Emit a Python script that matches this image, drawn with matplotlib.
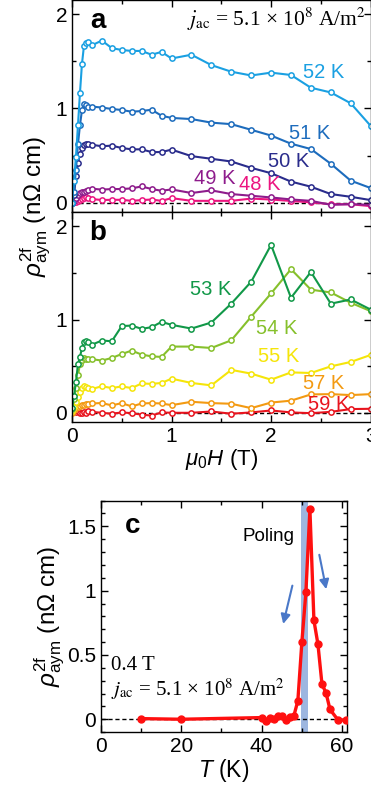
import numpy as np
import matplotlib
matplotlib.use('Agg')
import matplotlib.pyplot as plt
from matplotlib.ticker import MultipleLocator

plt.rcParams['font.family'] = ['Liberation Sans', 'DejaVu Sans']
plt.rcParams['mathtext.fontset'] = 'custom'
plt.rcParams['mathtext.rm'] = 'Liberation Sans'
plt.rcParams['mathtext.it'] = 'Liberation Sans:italic'
plt.rcParams['mathtext.bf'] = 'Liberation Sans:bold'

# field sweep (T)
field = [0, 0.02, 0.04, 0.06, 0.08, 0.10, 0.12, 0.14, 0.16, 0.2, 0.3, 0.4, 0.5, 0.6,
         0.7, 0.8, 0.9, 1.0, 1.2, 1.4, 1.6, 1.8, 2.0, 2.2, 2.4, 2.6, 2.8, 3.0]

# panel a
rho_52 = [0, 0.23, 0.49, 0.82, 1.16, 1.47, 1.66, 1.69, 1.70, 1.67, 1.72, 1.64, 1.62, 1.61,
          1.61, 1.57, 1.60, 1.53, 1.57, 1.46, 1.39, 1.35, 1.38, 1.355, 1.22, 1.17, 1.055, 0.816]
rho_51 = [0, 0.12, 0.35, 0.62, 0.82, 0.98, 1.05, 1.04, 1.02, 1.02, 1.01, 0.995, 0.984, 0.966,
          0.973, 0.987, 0.923, 0.90, 0.888, 0.85, 0.834, 0.774, 0.713, 0.627, 0.57, 0.414, 0.235, 0.157]
rho_50 = [0, 0.08, 0.28, 0.42, 0.52, 0.58, 0.61, 0.62, 0.62, 0.615, 0.60, 0.606, 0.581, 0.567,
          0.567, 0.538, 0.538, 0.564, 0.495, 0.467, 0.438, 0.371, 0.314, 0.225, 0.171, 0.093, 0.064, 0.029]
rho_49 = [0, 0.02, 0.05, 0.08, 0.10, 0.11, 0.12, 0.13, 0.14, 0.15, 0.14, 0.146, 0.146, 0.153,
          0.174, 0.146, 0.128, 0.142, 0.104, 0.132, 0.093, 0.075, 0.057, 0.036, 0.021, -0.021, -0.014, -0.021]
rho_48 = [0, 0.005, 0.01, 0.02, 0.035, 0.045, 0.055, 0.06, 0.055, 0.04, 0.03, 0.032, 0.032, 0.021,
          0.029, 0.035, 0.021, 0.05, 0.021, 0.021, 0.021, 0.045, 0.035, 0.02, 0.005, -0.015, -0.015, -0.035]

# panel b
rho_53 = [0.05, 0.18, 0.33, 0.52, 0.60, 0.69, 0.76, 0.77, 0.76, 0.73, 0.775, 0.767, 0.93, 0.935,
          0.90, 0.918, 0.975, 0.943, 0.903, 0.968, 1.17, 1.405, 1.80, 1.233, 1.51, 1.17, 1.215, 1.107]
rho_54 = [0.04, 0.15, 0.27, 0.40, 0.52, 0.57, 0.59, 0.58, 0.58, 0.575, 0.56, 0.588, 0.63, 0.667,
          0.624, 0.605, 0.599, 0.71, 0.71, 0.695, 0.777, 1.03, 1.28, 1.54, 1.32, 1.29, 1.18, 1.09]
rho_55 = [0.02, 0.06, 0.12, 0.17, 0.22, 0.27, 0.29, 0.28, 0.27, 0.255, 0.285, 0.265, 0.283, 0.265,
          0.315, 0.31, 0.32, 0.366, 0.32, 0.294, 0.46, 0.42, 0.355, 0.433, 0.427, 0.498, 0.545, 0.62]
rho_57 = [0.0, 0.03, 0.05, 0.06, 0.07, 0.08, 0.085, 0.09, 0.095, 0.10, 0.105, 0.079, 0.104, 0.068,
          0.10, 0.104, 0.10, 0.082, 0.118, 0.104, 0.097, 0.05, 0.11, 0.13, 0.197, 0.20, 0.19, 0.20]
rho_59 = [0.02, 0.03, 0.01, 0.02, 0.0, 0.0, 0.01, 0.0, 0.02, 0.01, 0.0, -0.01, 0.004, -0.004,
          -0.02, -0.03, 0.004, 0.0, 0.0, 0.014, -0.01, 0.004, 0.025, 0.004, -0.004, 0.01, 0.04, 0.043]

# panel c
temp = [10, 20, 40, 41, 42, 43, 44, 45, 46, 47, 48, 49, 50, 51, 52, 53, 54, 55, 56, 57, 59, 61]
rho_T = [0.005, 0.0, 0.013, -0.013, 0.013, 0.005, 0.023, 0.023, -0.003, 0.018, 0.026, 0.143,
         0.60, 0.987, 1.633, 0.768, 0.583, 0.273, 0.206, 0.076, -0.006, -0.006]

curves_a = [(rho_52, '#1aa0e2', '52 K', 2.53, 1.385),
            (rho_51, '#1d6cbd', '51 K', 2.39, 0.74),
            (rho_50, '#2a2c8c', '50 K', 2.18, 0.44),
            (rho_49, '#8e1c8c', '49 K', 1.43, 0.26),
            (rho_48, '#ec1580', '48 K', 1.89, 0.19)]
curves_b = [(rho_53, '#119848', '53 K', 1.39, 1.32),
            (rho_54, '#86c02c', '54 K', 2.06, 0.90),
            (rho_55, '#f5e50a', '55 K', 2.08, 0.60),
            (rho_57, '#f39a12', '57 K', 2.53, 0.31),
            (rho_59, '#e8141e', '59 K', 2.58, 0.09)]

jac = r'$j_{\rm ac}$ = 5.1 × 10$^{8}$ A/m$^{2}$'
ylab = r'$\rho^{\rm 2f}_{\rm aym}$ (n$\Omega$ cm)'

fig = plt.figure(figsize=(3.71, 8.01), dpi=100)
axa = fig.add_axes([0.194, 0.735, 0.805, 0.265])
axb = fig.add_axes([0.194, 0.473, 0.805, 0.262], sharex=axa)
axc = fig.add_axes([0.272, 0.086, 0.663, 0.289])


def style(ax):
    ax.tick_params(which='both', direction='in', top=True, right=True, labelsize=15, width=1)
    ax.tick_params(which='major', length=5)
    ax.tick_params(which='minor', length=3)
    for s in ax.spines.values():
        s.set_linewidth(1)


for ax, curves in [(axa, curves_a), (axb, curves_b)]:
    ax.axhline(0, color='k', ls='--', lw=1, dashes=(3, 2), zorder=1)
    for vals, col, lab, tx, ty in curves[::-1]:
        ax.plot(field, vals, '-o', color=col, lw=1.5, ms=3.8, mfc='white', mew=1.1)
        ax.text(tx, ty, lab, color=col, fontsize=14.5, ha='center', va='center')
    ax.set_xlim(0, 3)
    ax.set_ylim(-0.1, 2.15)
    ax.xaxis.set_major_locator(MultipleLocator(1))
    ax.xaxis.set_minor_locator(MultipleLocator(0.5))
    ax.yaxis.set_major_locator(MultipleLocator(1))
    ax.yaxis.set_minor_locator(MultipleLocator(0.5))
    style(ax)

axa.tick_params(labelbottom=False)
axa.text(0.26, 1.93, 'a', fontsize=20, fontweight='bold', ha='center', va='center')
axa.text(2.95, 1.94, jac, fontsize=15.5, ha='right', va='center',
         family='Liberation Serif', math_fontfamily='stix')
axb.text(0.26, 1.93, 'b', fontsize=20, fontweight='bold', ha='center', va='center')
axb.set_xlabel(r'$\mu_0H$ (T)', fontsize=16, labelpad=1)
fig.text(0.098, 0.742, ylab, fontsize=17.5, rotation=90, ha='center', va='center')

# panel c
axc.axvspan(49.9, 51.5, color='#9db6e0', lw=0, zorder=0)
axc.axhline(0, color='k', ls='--', lw=1, dashes=(3, 2), zorder=1)
axc.plot(temp, rho_T, '-o', color='#ff1010', lw=2.4, ms=5, zorder=3)
axc.set_xlim(0, 61.2)
axc.set_ylim(-0.1, 1.7)
axc.xaxis.set_major_locator(MultipleLocator(20))
axc.xaxis.set_minor_locator(MultipleLocator(10))
axc.yaxis.set_minor_locator(MultipleLocator(0.1))
axc.set_yticks([0, 0.5, 1, 1.5], ['0', '0.5', '1', '1.5'])
style(axc)
axc.set_xlabel(r'$T$ (K)', fontsize=16.5, labelpad=1)
axc.set_ylabel(ylab, fontsize=17.5, labelpad=0)
axc.text(7.8, 1.50, 'c', fontsize=20, fontweight='bold', ha='center', va='center')
axc.text(48.2, 1.42, 'Poling', fontsize=13.5, ha='right', va='center')
axc.text(2.5, 0.42, '0.4 T', fontsize=15, ha='left', va='center', family='Liberation Serif')
axc.text(2.5, 0.23, jac, fontsize=15, ha='left', va='center',
         family='Liberation Serif', math_fontfamily='stix')
axc.annotate('', xy=(45.2, 0.72), xytext=(47.8, 1.06),
             arrowprops=dict(arrowstyle='-|>', color='#4a78c8', lw=1.5, mutation_scale=14))
axc.annotate('', xy=(56.2, 0.99), xytext=(54.2, 1.30),
             arrowprops=dict(arrowstyle='-|>', color='#4a78c8', lw=1.5, mutation_scale=14))

fig.savefig('out.png', dpi=100)
